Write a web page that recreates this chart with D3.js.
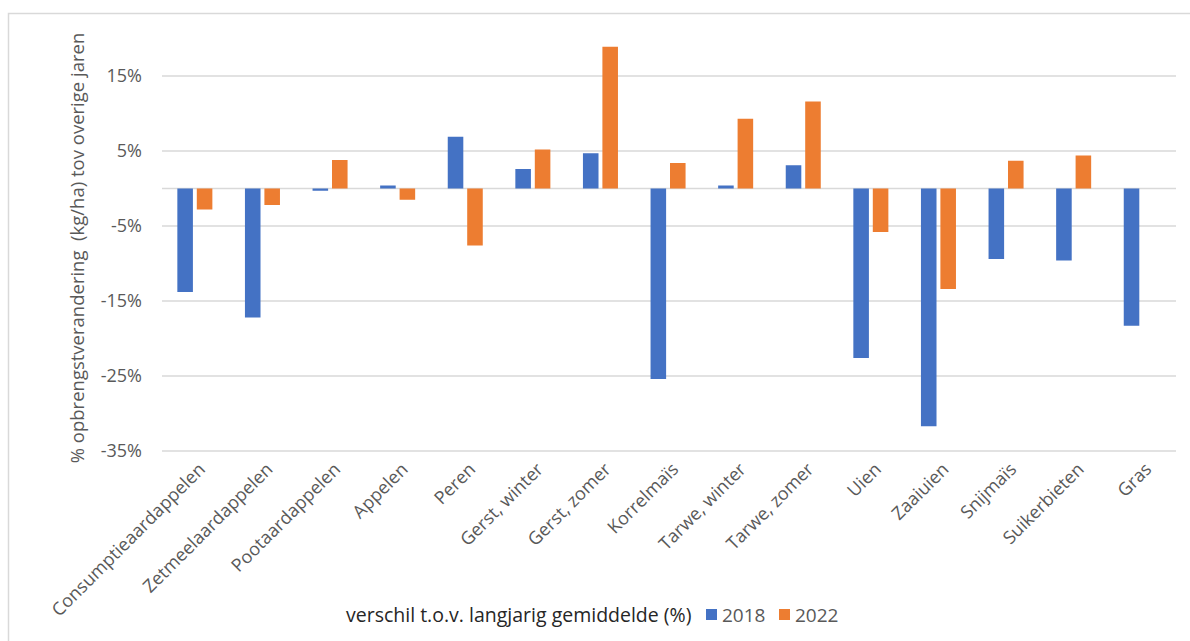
<!DOCTYPE html>
<html>
<head>
<meta charset="utf-8">
<script src="https://cdn.jsdelivr.net/npm/d3@7"></script>
<style>
  body { margin: 0; background: #fff; }
  svg { font-family: "Open Sans", sans-serif; }
</style>
</head>
<body>
<script>
var gewassen = ["Consumptieaardappelen", "Zetmeelaardappelen", "Pootaardappelen", "Appelen", "Peren",
    "Gerst, winter", "Gerst, zomer", "Korrelmaïs", "Tarwe, winter", "Tarwe, zomer",
    "Uien", "Zaaiuien", "Snijmaïs", "Suikerbieten", "Gras"];
var jaren = ["2018", "2022"];
var waarden2018 = [-13.8, -17.2, -0.3, 0.4, 6.9, 2.6, 4.7, -25.4, 0.4, 3.1, -22.6, -31.7, -9.4, -9.6, -18.3];
var waarden2022 = [-2.8, -2.2, 3.8, -1.5, -7.6, 5.2, 18.9, 3.4, 9.3, 11.6, -5.8, -13.4, 3.7, 4.4, null];
var yTicks = [-35, -25, -15, -5, 5, 15];
var kleuren = ["#4472C4", "#ED7D31"];

window.onload = drawChart();

function drawChart(){

    var width = 1190,
        height = 641;

    var svg = d3.select("body")
        .append("svg")
        .attr("width", width)
        .attr("height", height);

    // chart border (right and bottom fall outside the picture)
    svg.append("rect")
        .attr("x", 8.5)
        .attr("y", 13.5)
        .attr("width", 1200)
        .attr("height", 700)
        .attr("fill", "none")
        .attr("stroke", "#d9d9d9")
        .attr("stroke-width", 1.5);

    var y = d3.scaleLinear()
        .domain([-35, 20])
        .range([451, 38.5]);

    var x = d3.scaleBand()
        .domain(gewassen)
        .range([162, 1176])
        .padding(0);

    var bw = x.bandwidth();
    var x1 = d3.scaleBand()
        .domain(jaren)
        .range([bw * 0.227, bw * 0.745])
        .paddingInner(0.2);

    var color = d3.scaleOrdinal()
        .domain(jaren)
        .range(kleuren);

    // gridlines
    svg.append("g")
        .attr("class", "grid")
        .selectAll("line")
        .data(yTicks.concat([0]))
        .enter()
        .append("line")
        .attr("x1", 162)
        .attr("x2", 1176)
        .attr("y1", function(d){ return y(d); })
        .attr("y2", function(d){ return y(d); })
        .attr("stroke", "#d9d9d9")
        .attr("stroke-width", 1.5);

    // y axis labels
    var yAxis = d3.axisLeft(y)
        .tickValues(yTicks)
        .tickSize(0)
        .tickPadding(20)
        .tickFormat(function(d){ return d + "%"; });

    svg.append("g")
        .attr("transform", "translate(162,0)")
        .call(yAxis)
        .call(function(g){ g.select(".domain").remove(); })
        .selectAll("text")
        .attr("fill", "#595959")
        .style("font-size", "18px")
        .style("font-family", "Open Sans, sans-serif");

    // bars
    var rows = gewassen.map(function(g, i){
        return { gewas: g, vals: [
            { jaar: "2018", v: waarden2018[i] },
            { jaar: "2022", v: waarden2022[i] }
        ]};
    });

    var groups = svg.selectAll(".groep")
        .data(rows)
        .enter()
        .append("g")
        .attr("class", "groep")
        .attr("transform", function(d){ return "translate(" + x(d.gewas) + ",0)"; });

    groups.selectAll("rect")
        .data(function(d){ return d.vals.filter(function(e){ return e.v !== null; }); })
        .enter()
        .append("rect")
        .attr("x", function(d){ return x1(d.jaar); })
        .attr("width", x1.bandwidth())
        .attr("y", function(d){ return Math.min(y(d.v), y(0)); })
        .attr("height", function(d){ return Math.max(1, Math.abs(y(d.v) - y(0))); })
        .attr("fill", function(d){ return color(d.jaar); });

    // x category labels
    var xAxis = d3.axisBottom(x)
        .tickSize(0)
        .tickPadding(0);

    var xg = svg.append("g")
        .attr("transform", "translate(0,466)")
        .call(xAxis);
    xg.select(".domain").remove();
    xg.selectAll("text")
        .attr("fill", "#595959")
        .style("font-size", "18px")
        .style("font-family", "Open Sans, sans-serif")
        .attr("text-anchor", "end")
        .attr("dy", "0.35em")
        .attr("transform", "translate(6,0) rotate(-45)");

    // y axis title
    svg.append("text")
        .attr("transform", "translate(84,248) rotate(-90)")
        .attr("text-anchor", "middle")
        .attr("fill", "#595959")
        .style("font-size", "18.5px")
        .style("white-space", "pre")
        .text("% opbrengstverandering  (kg/ha) tov overige jaren");

    // legend
    var legend = svg.append("g")
        .attr("transform", "translate(0,622)");

    legend.append("text")
        .attr("x", 346)
        .attr("y", 0)
        .attr("fill", "#262626")
        .style("font-size", "19.5px")
        .text("verschil t.o.v. langjarig gemiddelde (%)");

    var items = legend.selectAll(".item")
        .data(jaren)
        .enter()
        .append("g")
        .attr("class", "item")
        .attr("transform", function(d, i){ return "translate(" + (706 + i * 73) + ",0)"; });

    items.append("rect")
        .attr("x", 0)
        .attr("y", -13)
        .attr("width", 11)
        .attr("height", 11)
        .attr("fill", function(d){ return color(d); });

    items.append("text")
        .attr("x", 16)
        .attr("y", 0)
        .attr("fill", "#595959")
        .style("font-size", "19px")
        .text(function(d){ return d; });
};
</script>
</body>
</html>
